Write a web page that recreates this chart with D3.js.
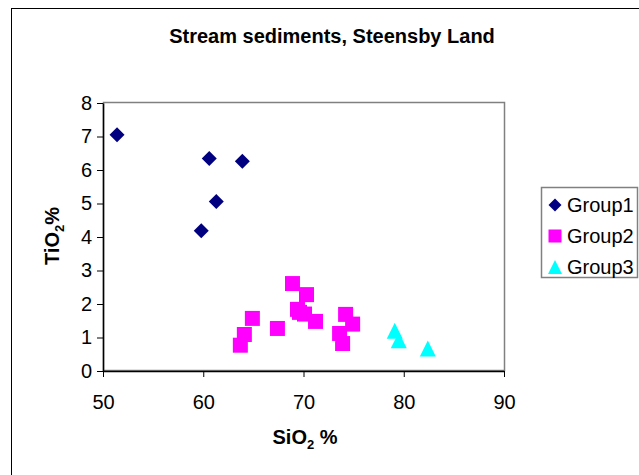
<!DOCTYPE html>
<html>
<head>
<meta charset="utf-8">
<script src="https://cdn.jsdelivr.net/npm/d3@7/dist/d3.min.js"></script>
<style>
  html, body { margin: 0; padding: 0; background: #fff; }
  svg { display: block; font-family: "Liberation Sans", Arial, sans-serif; }
</style>
</head>
<body>
<svg id="chart" width="639" height="475"></svg>
<script>
// SiO2 % (x) and TiO2 % (y) for each sample group
const group1X = [51.4, 60.6, 63.9, 61.3, 59.8];
const group1Y = [7.05, 6.34, 6.26, 5.06, 4.19];

const group2X = [63.7, 64.1, 64.9, 67.4, 68.9, 70.3, 69.4, 70.1, 69.6, 71.2, 74.2, 74.9, 73.6, 73.9];
const group2Y = [0.77, 1.09, 1.57, 1.27, 2.61, 2.28, 1.84, 1.70, 1.75, 1.48, 1.69, 1.40, 1.12, 0.82];

const group3X = [79.1, 79.5, 82.4];
const group3Y = [1.20, 0.92, 0.67];

const seriesNames = ["Group1", "Group2", "Group3"];
const seriesColors = ["#000080", "#ff00ff", "#00ffff"];

const xTicks = [50, 60, 70, 80, 90];
const yTicks = [0, 1, 2, 3, 4, 5, 6, 7, 8];

const titleText = "Stream sediments, Steensby Land";

const FONT = "'Liberation Sans', Arial, sans-serif";
const svg = d3.select("#chart");

// outer chart frame
svg.append("rect")
  .attr("x", 11.5).attr("y", 8.5)
  .attr("width", 700).attr("height", 600)
  .attr("fill", "#fff").attr("stroke", "#000").attr("stroke-width", 1);

const plot = { left: 103, top: 103, right: 504, bottom: 371 };

const x = d3.scaleLinear().domain([50, 90]).range([plot.left, plot.right]);
const y = d3.scaleLinear().domain([0, 8]).range([plot.bottom, plot.top]);

// plot area border
svg.append("rect")
  .attr("x", plot.left + 0.5).attr("y", plot.top - 0.5)
  .attr("width", plot.right - plot.left).attr("height", plot.bottom - plot.top)
  .attr("fill", "none").attr("stroke", "#808080").attr("stroke-width", 1.5);

// axes
const xAxis = d3.axisBottom(x).tickValues(xTicks).tickSize(6).tickPadding(18).tickSizeOuter(0);
const yAxis = d3.axisLeft(y).tickValues(yTicks).tickSize(6).tickPadding(5).tickSizeOuter(0);

const gx = svg.append("g").attr("transform", `translate(0,${plot.bottom})`).call(xAxis);
const gy = svg.append("g").attr("transform", `translate(${plot.left},0)`).call(yAxis);

[gx, gy].forEach(g => {
  g.selectAll(".domain").attr("stroke", "#000").attr("stroke-width", 1.5);
  g.selectAll(".tick line").attr("stroke", "#000").attr("stroke-width", 1);
  g.selectAll(".tick text")
    .attr("fill", "#000")
    .style("font-size", "20px")
    .style("font-family", FONT);
});

// title
svg.append("text")
  .attr("x", 332).attr("y", 43)
  .attr("text-anchor", "middle")
  .style("font-size", "20px").style("font-weight", "bold")
  .text(titleText);

// axis titles with subscript 2
const xTitle = svg.append("text")
  .attr("x", 305).attr("y", 444)
  .attr("text-anchor", "middle")
  .style("font-size", "20px").style("font-weight", "bold");
xTitle.append("tspan").text("SiO");
xTitle.append("tspan").attr("dy", 5).style("font-size", "13px").text("2");
xTitle.append("tspan").attr("dy", -5).text(" %");

const yTitle = svg.append("text")
  .attr("transform", "translate(59,236) rotate(-90)")
  .attr("text-anchor", "middle")
  .style("font-size", "20px").style("font-weight", "bold");
yTitle.append("tspan").text("TiO");
yTitle.append("tspan").attr("dy", 5).style("font-size", "13px").text("2");
yTitle.append("tspan").attr("dy", -5).text("%");

// marker shapes, sized by bounding width in px
function markerPath(i, size) {
  const h = size / 2;
  if (i === 0) return `M0,${-h}L${h},0L0,${h}L${-h},0Z`;
  if (i === 1) return `M${-h},${-h}H${h}V${h}H${-h}Z`;
  return `M0,${-h}L${h},${h}L${-h},${h}Z`;
}

const seriesData = [
  group1X.map((v, i) => ({ x: v, y: group1Y[i] })),
  group2X.map((v, i) => ({ x: v, y: group2Y[i] })),
  group3X.map((v, i) => ({ x: v, y: group3Y[i] }))
];
const markerSizes = [15, 15, 16];

seriesData.forEach((pts, si) => {
  svg.append("g").selectAll("path")
    .data(pts)
    .join("path")
    .attr("transform", d => `translate(${x(d.x)},${y(d.y)})`)
    .attr("d", markerPath(si, markerSizes[si]))
    .attr("fill", seriesColors[si]);
});

// legend
const legend = svg.append("g");
legend.append("rect")
  .attr("x", 541.5).attr("y", 187.5)
  .attr("width", 96).attr("height", 90)
  .attr("fill", "#fff").attr("stroke", "#808080").attr("stroke-width", 1.5);

const legendY = [205, 236, 267];
seriesNames.forEach((name, i) => {
  legend.append("path")
    .attr("transform", `translate(555,${legendY[i]})`)
    .attr("d", markerPath(i, i === 2 ? 14 : 13))
    .attr("fill", seriesColors[i]);
  legend.append("text")
    .attr("x", 567).attr("y", legendY[i])
    .attr("dy", "0.36em")
    .style("font-size", "20px")
    .style("font-family", FONT)
    .text(name);
});
</script>
</body>
</html>
